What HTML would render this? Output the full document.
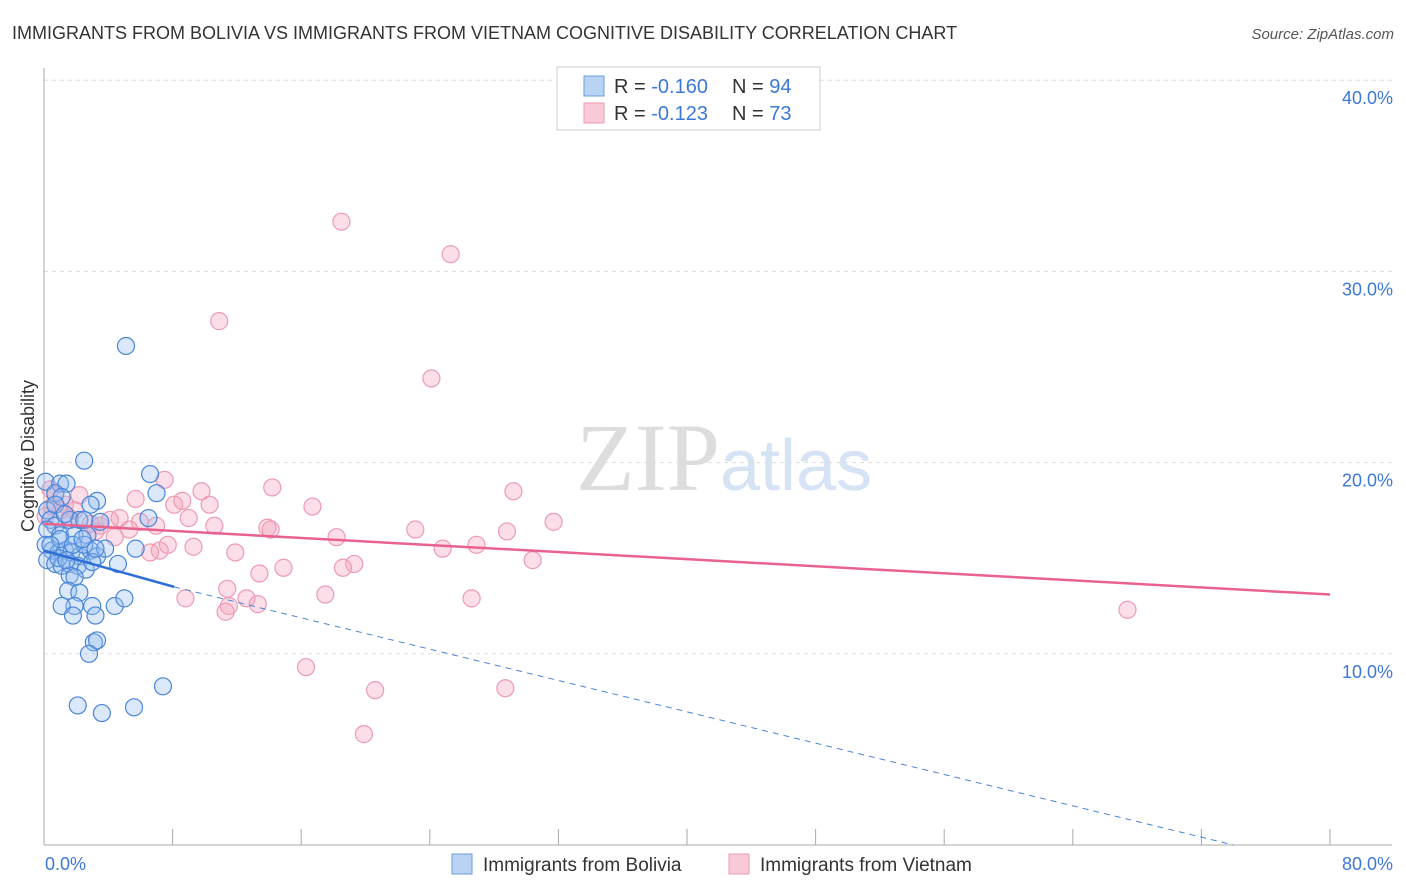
<!DOCTYPE html>
<html><head><meta charset="utf-8"><style>
body{margin:0;background:#fff;font-family:"Liberation Sans",sans-serif;}
svg{display:block}
</style></head><body>
<svg id="chart" width="1406" height="892">
<text x="12" y="39" font-size="18" fill="#333">IMMIGRANTS FROM BOLIVIA VS IMMIGRANTS FROM VIETNAM COGNITIVE DISABILITY CORRELATION CHART</text>
<text x="1394" y="39" font-size="15" fill="#555" text-anchor="end" font-style="italic">Source: ZipAtlas.com</text>
<text x="720" y="490" font-size="96" fill="#ddd" text-anchor="end" font-family="Liberation Serif">ZIP</text>
<text x="720" y="490" font-size="72" fill="#d5e3f5">atlas</text>
<text x="34" y="456" font-size="18" fill="#333" text-anchor="middle" transform="rotate(-90 34 456)">Cognitive Disability</text>
<g id="grid"></g><g id="pts"></g><g id="lines"></g>
<g>
<rect x="557" y="67" width="263" height="63" fill="#fff" stroke="#ccc"/>
<rect x="584" y="76" width="20" height="20" fill="#b9d3f3" stroke="#6a9ee0"/>
<rect x="584" y="103" width="20" height="20" fill="#f8c9d7" stroke="#ee9ab3"/>
<text x="614" y="93" font-size="20" fill="#333">R = <tspan fill="#3c78d8">-0.160</tspan><tspan x="732">N = </tspan><tspan fill="#3c78d8">94</tspan></text>
<text x="614" y="120" font-size="20" fill="#333">R = <tspan fill="#3c78d8"> -0.123</tspan><tspan x="732">N = </tspan><tspan fill="#3c78d8">73</tspan></text>
</g>
<g>
<rect x="452" y="854" width="20" height="20" fill="#b9d3f3" stroke="#6a9ee0"/>
<text x="483" y="871" font-size="19" fill="#333">Immigrants from Bolivia</text>
<rect x="729" y="854" width="20" height="20" fill="#f8c9d7" stroke="#ee9ab3"/>
<text x="760" y="871" font-size="19" fill="#333">Immigrants from Vietnam</text>
</g>
<text x="45" y="870" font-size="18" fill="#3c78d8">0.0%</text>
<text x="1393" y="870" font-size="18" fill="#3c78d8" text-anchor="end">80.0%</text>
</svg>
<script>
const yTicks=[10,20,30,40];
const blueX=[5.1,2.5,6.6,7.0,3.3,6.5,5.7,4.6,0.1,1.0,1.4,0.7,1.1,2.9,0.2,0.4,0.7,1.6,2.2,2.5,3.5,0.2,1.0,1.9,2.7,0.1,0.5,0.9,1.3,1.7,2.2,2.9,3.3,3.8,0.2,0.7,1.1,1.6,2.1,2.6,3.0,1.6,1.9,1.5,2.2,1.9,1.1,3.0,4.4,5.0,1.8,3.2,3.1,3.3,2.8,7.4,2.1,3.6,5.6,0.7,1.3,2.5,1.0,0.4,0.9,1.4,3.2,1.8,2.4];
const blueY=[26.1,20.1,19.4,18.4,18.0,17.1,15.5,14.7,19.0,18.9,18.9,18.4,18.2,17.8,17.5,17.0,16.7,17.0,17.0,17.0,16.9,16.5,16.2,16.2,16.2,15.7,15.4,15.3,15.4,15.3,15.1,15.4,15.1,15.5,14.9,14.7,14.6,14.7,14.6,14.4,14.8,14.1,14.0,13.3,13.2,12.5,12.5,12.5,12.5,12.9,12.0,12.0,10.6,10.7,10.0,8.3,7.3,6.9,7.2,17.8,17.3,15.7,16.0,15.7,15.0,14.9,15.5,15.7,16.0];
const pinkX=[18.5,25.3,10.9,24.1,7.5,8.6,9.8,5.7,10.3,14.2,16.7,29.2,31.7,23.1,28.8,26.9,24.8,30.4,11.9,13.9,14.1,10.6,9.0,8.1,6.97,5.97,4.7,4.1,3.5,2.9,1.6,1.0,0.7,1.3,1.9,2.2,0.4,7.2,6.6,7.7,9.3,18.2,19.3,18.6,14.9,13.4,11.4,8.8,11.5,11.3,12.6,13.3,17.5,26.6,16.3,20.6,19.9,28.7,67.4,5.3,4.4,3.2,0.1,0.5];
const pinkY=[32.6,30.9,27.4,24.4,19.1,18.0,18.5,18.1,17.8,18.7,17.7,18.5,16.9,16.5,16.4,15.7,15.5,14.9,15.3,16.6,16.5,16.7,17.1,17.8,16.7,16.9,17.1,17.0,16.7,16.8,17.1,17.5,18.3,17.8,17.5,18.3,18.6,15.4,15.3,15.7,15.6,16.1,14.7,14.5,14.5,14.2,13.4,12.9,12.5,12.2,12.9,12.6,13.1,12.9,9.3,8.1,5.8,8.2,12.3,16.5,16.1,16.4,17.2,17.7];
const blueLine=[0,15.4,8.1,13.5,74,0];
const pinkLine=[0,16.8,80,13.1];
const NS="http://www.w3.org/2000/svg";
const X=v=>44+v*16.075, Y=v=>845-v*19.12;
function mk(t,a,p){const e=document.createElementNS(NS,t);for(const k in a)e.setAttribute(k,a[k]);p.appendChild(e);return e;}
const grid=document.getElementById('grid');
yTicks.forEach(t=>{
const l=mk('line',{x1:44,x2:1392,y1:Y(t),y2:Y(t),stroke:'#ddd','stroke-dasharray':'4,4'},grid);


const tx=mk('text',{x:1393,y:Y(t)+24,'font-size':18,fill:'#3c78d8','text-anchor':'end'},grid);
tx.textContent=t.toFixed(1)+'%';


});
const ax=mk('line',{x1:44,x2:44,y1:68,y2:845,stroke:'#aaa'},grid);


const bx=mk('line',{x1:44,x2:1392,y1:845,y2:845,stroke:'#aaa'},grid);


for(let i=1;i<=10;i++){const tk=mk('line',{x1:X(i*8),x2:X(i*8),y1:829,y2:845,stroke:'#aaa'},grid);

}
const pts=document.getElementById('pts');
pinkX.forEach((x,i)=>{const c=mk('circle',{cx:X(x),cy:Y(pinkY[i]),r:8.5,fill:'rgba(244,160,186,0.35)',stroke:'#ee9ab3','stroke-width':1.2},pts);

});
blueX.forEach((x,i)=>{const c=mk('circle',{cx:X(x),cy:Y(blueY[i]),r:8.5,fill:'rgba(150,190,240,0.35)',stroke:'#4a86d8','stroke-width':1.2},pts);

});
const lines=document.getElementById('lines');
let l1=mk('line',{x1:X(blueLine[0]),y1:Y(blueLine[1]),x2:X(blueLine[2]),y2:Y(blueLine[3]),stroke:'#2e6fd6','stroke-width':2.5},lines);


let l2=mk('line',{x1:X(blueLine[2]),y1:Y(blueLine[3]),x2:X(blueLine[4]),y2:Y(blueLine[5]),stroke:'#4a86d8','stroke-width':1,'stroke-dasharray':'6,5'},lines);


let l3=mk('line',{x1:X(pinkLine[0]),y1:Y(pinkLine[1]),x2:X(pinkLine[2]),y2:Y(pinkLine[3]),stroke:'#e8628d','stroke-width':2.5},lines);


</script>
</body></html>
